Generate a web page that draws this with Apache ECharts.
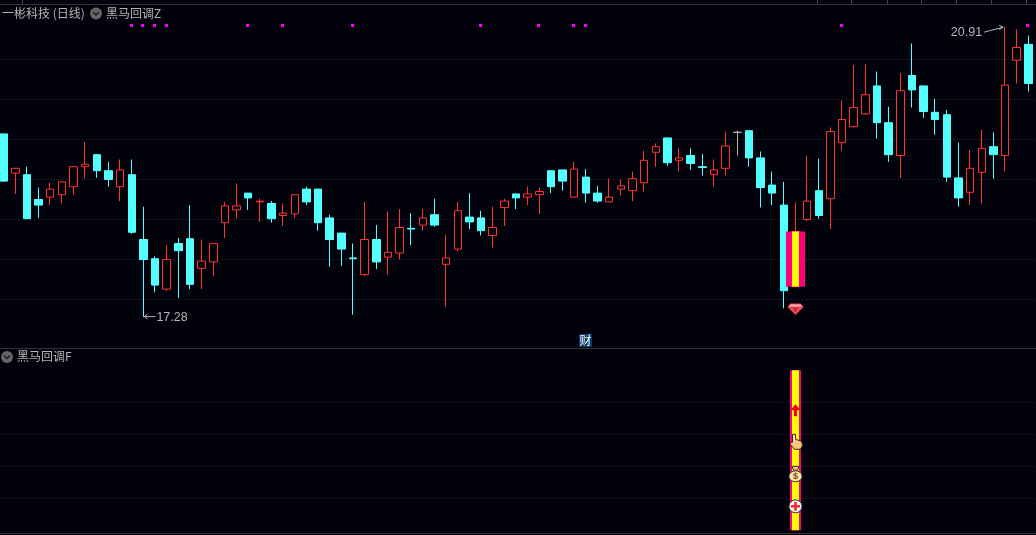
<!DOCTYPE html>
<html>
<head>
<meta charset="UTF-8"/>
<title>一彬科技 (日线)</title>
<script src="https://cdn.jsdelivr.net/npm/echarts@6/dist/echarts.min.js"></script>
<style>
html,body{margin:0;padding:0;background:#02020c;}
#main{width:1036px;height:535px;}
</style>
</head>
<body>
<div id="main"></div>
<script type="text/javascript">
var opens  = [19.57,19.08,19.06,18.75,18.78,18.81,18.91,19.16,19.31,19.11,18.91,19.06,18.25,18.01,17.63,18.20,18.26,17.89,17.97,18.46,18.62,18.83,18.72,18.70,18.55,18.57,18.88,18.88,18.52,18.33,18.02,17.81,18.25,18.03,18.08,18.39,18.43,18.56,17.94,18.13,18.53,18.52,18.30,18.65,18.82,18.78,18.81,19.11,19.12,18.78,19.03,18.83,18.72,18.88,18.86,18.96,19.34,19.52,19.24,19.30,19.16,19.06,19.14,19.59,19.61,19.27,18.93,18.68,17.66,18.50,18.86,18.76,19.46,19.66,19.82,20.17,19.71,19.30,20.30,20.17,19.84,19.81,19.02,18.84,19.09,19.41,19.30,20.49,20.69,20.12];
var closes = [18.98,19.14,18.51,18.68,18.88,18.97,19.16,19.19,19.11,19.00,19.12,18.34,18.00,17.68,18.00,18.11,17.69,17.98,18.20,18.67,18.67,18.77,18.73,18.51,18.58,18.81,18.72,18.46,18.25,18.13,18.01,18.25,17.97,18.09,18.40,18.38,18.52,18.43,18.02,18.61,18.47,18.36,18.40,18.73,18.77,18.82,18.85,18.91,18.98,19.13,18.83,18.73,18.78,18.92,19.01,19.24,19.41,19.21,19.27,19.20,19.15,19.12,19.42,19.59,19.27,18.90,18.83,17.61,18.35,18.73,18.55,19.60,19.75,19.90,20.06,19.71,19.31,20.11,20.12,19.85,19.75,19.03,18.77,19.14,19.39,19.31,20.18,20.65,20.20,19.92];
var lows   = [18.97,18.82,18.51,18.52,18.68,18.70,18.81,19.01,19.02,18.91,18.73,18.32,17.28,17.59,17.61,17.52,17.63,17.63,17.79,18.27,18.51,18.62,18.47,18.46,18.42,18.52,18.68,18.36,17.91,17.92,17.31,17.79,17.88,17.81,18.00,18.18,18.36,18.41,17.41,18.10,18.38,18.30,18.15,18.42,18.63,18.68,18.57,18.83,18.86,18.78,18.71,18.71,18.72,18.80,18.73,18.85,19.16,19.17,19.10,19.12,19.05,18.91,19.05,19.30,19.16,18.65,18.68,17.39,17.66,18.48,18.51,18.38,19.36,19.65,19.81,19.51,19.22,19.02,19.90,19.77,19.56,18.97,18.66,18.68,18.70,19.01,19.10,20.20,20.10,19.92];
var highs  = [19.57,19.14,19.16,18.90,18.96,18.97,19.17,19.47,19.32,19.22,19.25,19.25,18.66,18.04,18.18,18.27,18.68,18.25,18.20,18.72,18.95,18.83,18.76,18.73,18.70,18.81,18.91,18.88,18.56,18.33,18.20,18.72,18.43,18.60,18.63,18.58,18.63,18.76,18.31,18.72,18.83,18.61,18.66,18.76,18.82,18.91,18.90,19.11,19.12,19.22,19.13,18.92,19.01,19.00,19.10,19.36,19.45,19.52,19.39,19.39,19.32,19.25,19.60,19.61,19.61,19.35,19.10,18.97,18.71,19.30,19.26,19.65,19.99,20.43,20.44,20.35,19.91,20.33,20.70,20.17,20.01,19.87,19.46,19.37,19.62,19.59,20.91,20.88,20.80,20.12];

var priceTicks = [17.5,18,18.5,19,19.5,20,20.5];
var lowerTicks = [20,40,60,80];

var signalIdx = [11,12,13,14,21,24,30,41,46,49,50,72,88];
var signalPrice = 20.93;
var greyDojiIdx = 63;

var blackHorseIdx = 68;
var blackHorseLow = 17.66;
var blackHorseHigh = 18.35;
var diamondPrice = 17.38;
var lowerBarFrom = 0;
var lowerBarTo = 100;
var iconNames = ['arrow','hand','bag','plus'];
var iconValues = [75,55,35,15];

var lowIdx = 12, lowValue = 17.28;
var highIdx = 86, highValue = 20.91;

var topTicks = [22,817,851,887,921,956,991,1026];

var BG = '#02020c', UP = '#ff3232', DOWN = '#54ffff', PINK = '#ff0080', YELLOW = '#ffff00';
var TEXT = '#b4b4b4', LINE = '#333333', FONT = '"Noto Sans CJK SC", sans-serif';

var categories = [];
var candles = [];
for (var i = 0; i < opens.length; i++) {
    categories.push(String(i));
    var item = {value: [opens[i], closes[i], lows[i], highs[i]]};
    if (i == greyDojiIdx) {
        item.itemStyle = {color: '#b4b4b4', color0: '#b4b4b4', borderColor: '#b4b4b4', borderColor0: '#b4b4b4', borderColorDoji: '#b4b4b4'};
    }
    candles.push(item);
}

function stickRender(params, api) {
    var a = api.coord([api.value(0), api.value(1)]);
    var b = api.coord([api.value(0), api.value(2)]);
    var x = Math.round(a[0]) + 0.5;
    return {type: 'group', children: [
        {type: 'rect', shape: {x: x - 9.5, y: b[1], width: 19, height: a[1] - b[1]}, style: {fill: PINK}},
        {type: 'rect', shape: {x: x - 3.5, y: b[1], width: 7, height: a[1] - b[1]}, style: {fill: YELLOW}}
    ]};
}

function lowerStickRender(params, api) {
    var a = api.coord([api.value(0), api.value(1)]);
    var b = api.coord([api.value(0), api.value(2)]);
    var x = Math.round(a[0]) + 0.5;
    return {type: 'group', children: [
        {type: 'rect', shape: {x: x - 5.5, y: b[1], width: 11, height: a[1] - b[1]}, style: {fill: PINK}},
        {type: 'rect', shape: {x: x - 3.5, y: b[1], width: 7, height: a[1] - b[1]}, style: {fill: YELLOW}}
    ]};
}

// little squares along the top, snapped to whole pixels so they stay bright
function signalRender(params, api) {
    var c = api.coord([api.value(0), api.value(1)]);
    return {type: 'rect', shape: {x: Math.round(c[0]) - 2, y: Math.round(c[1]) - 1, width: 3, height: 3}, style: {fill: '#ff00ff'}};
}

function poly(cx, cy, pts, style) {
    var out = [];
    for (var i = 0; i < pts.length; i++) {
        out.push([cx + pts[i][0], cy + pts[i][1]]);
    }
    return {type: 'polygon', shape: {points: out}, style: style};
}

function diamondRender(params, api) {
    var c = api.coord([api.value(0), api.value(1)]);
    var x = Math.round(c[0]) + 0.5, y = c[1];
    return {type: 'group', children: [
        poly(x, y, [[-5,-5.5],[5,-5.5],[8,-2],[0,6],[-8,-2]], {fill: '#f04a58'}),
        poly(x, y, [[-5,-4.5],[5,-4.5],[6.5,-2.5],[-6.5,-2.5]], {fill: '#ffb4b4'}),
        poly(x, y, [[-3,-1.5],[3,-1.5],[0,4]], {fill: '#c8283c'})
    ]};
}

function iconRender(params, api) {
    var c = api.coord([api.value(0), api.value(1)]);
    var x = Math.round(c[0]) + 0.5, y = c[1];
    var name = iconNames[params.dataIndex];
    if (name == 'arrow') {
        return {type: 'group', children: [
            poly(x, y, [[0,-6],[5,0],[1.5,0],[1.5,6],[-1.5,6],[-1.5,0],[-5,0]], {fill: '#f00000'})
        ]};
    }
    if (name == 'hand') {
        return {type: 'group', children: [
            poly(x, y, [[-3,-8],[0,-8],[0,-3],[6,-1],[7,3],[5,7],[-1,7],[-6,1],[-3,0]], {fill: '#fcc67e', stroke: '#3a2a10', lineWidth: 1}),
            {type: 'rect', shape: {x: x - 2, y: y - 7, width: 1.5, height: 6}, style: {fill: '#fff4e0'}}
        ]};
    }
    if (name == 'bag') {
        return {type: 'group', children: [
            poly(x, y, [[-3.5,-8],[3.5,-8],[2,-4],[-2,-4]], {fill: '#e8c878', stroke: '#333', lineWidth: 1}),
            {type: 'ellipse', shape: {cx: x, cy: y + 2, rx: 6.5, ry: 5.5}, style: {fill: '#f8e0a0', stroke: '#333', lineWidth: 1}},
            {type: 'text', style: {text: '$', x: x, y: y + 2, fill: '#7a4a20', font: 'bold 9px "Liberation Sans"', textAlign: 'center', textVerticalAlign: 'middle'}}
        ]};
    }
    return {type: 'group', children: [
        {type: 'circle', shape: {cx: x, cy: y, r: 6.5}, style: {fill: '#f4f4f4', stroke: '#333', lineWidth: 1}},
        {type: 'rect', shape: {x: x - 4.5, y: y - 1.25, width: 9, height: 2.5}, style: {fill: '#f02828'}},
        {type: 'rect', shape: {x: x - 1.25, y: y - 4.5, width: 2.5, height: 9}, style: {fill: '#f02828'}}
    ]};
}

function extremeRender(params, api) {
    var c = api.coord([api.value(0), api.value(1)]);
    var x = c[0], y = c[1];
    var line = {stroke: '#b4b4b4', lineWidth: 1, fill: 'none'};
    var txt = api.value(1).toFixed(2);
    if (api.value(2) < 0) {
        return {type: 'group', children: [
            {type: 'polyline', shape: {points: [[x + 12, y - 0.5], [x + 1, y - 0.5]]}, style: line},
            {type: 'polyline', shape: {points: [[x + 4, y - 3], [x + 1, y - 0.5], [x + 4, y + 2]]}, style: line},
            {type: 'text', style: {text: txt, x: x + 13, y: y, fill: TEXT, font: '12.5px "Liberation Sans"', textVerticalAlign: 'middle'}}
        ]};
    }
    return {type: 'group', children: [
        {type: 'polyline', shape: {points: [[x - 21, y + 5.5], [x - 2, y + 0.5]]}, style: line},
        {type: 'polyline', shape: {points: [[x - 6, y - 1.5], [x - 2, y + 0.5], [x - 6, y + 3]]}, style: line},
        {type: 'text', style: {text: txt, x: x - 23, y: y + 6, fill: TEXT, font: '12.5px "Liberation Sans"', textAlign: 'right', textVerticalAlign: 'middle'}}
    ]};
}

function chevron(cx, cy) {
    return [
        {type: 'circle', shape: {cx: cx, cy: cy, r: 6}, style: {fill: '#666666'}},
        {type: 'polyline', shape: {points: [[cx - 3, cy - 1.5], [cx, cy + 1.5], [cx + 3, cy - 1.5]]}, style: {stroke: '#1a1a1a', lineWidth: 1.5, fill: 'none'}}
    ];
}

function hLine(y) {
    return {type: 'line', shape: {x1: 0, y1: y, x2: 1036, y2: y}, style: {stroke: LINE, lineWidth: 1}};
}

var chrome = [hLine(4.5), hLine(348.5), hLine(533.5)];
for (var t = 0; t < topTicks.length; t++) {
    chrome.push({type: 'line', shape: {x1: topTicks[t] + 0.5, y1: 0, x2: topTicks[t] + 0.5, y2: 4}, style: {stroke: '#444444', lineWidth: 1}});
}
chrome = chrome.concat(chevron(96, 13.5), chevron(7, 357));
chrome.push({type: 'text', x: 2, y: 13.5, style: {text: '一彬科技 (日线)', fill: TEXT, font: '12px ' + FONT, textVerticalAlign: 'middle'}});
chrome.push({type: 'text', x: 106, y: 13.5, style: {text: '黑马回调Z', fill: TEXT, font: '12px ' + FONT, textVerticalAlign: 'middle'}});
chrome.push({type: 'text', x: 17, y: 356.5, style: {text: '黑马回调F', fill: TEXT, font: '12px ' + FONT, textVerticalAlign: 'middle'}});
chrome.push({type: 'rect', shape: {x: 579, y: 334, width: 13, height: 13}, style: {fill: '#0c3c6e'}});
chrome.push({type: 'text', x: 585.5, y: 340.5, style: {text: '财', fill: '#ffffff', font: '12px ' + FONT, textAlign: 'center', textVerticalAlign: 'middle'}});

var signalData = [];
for (var s = 0; s < signalIdx.length; s++) {
    signalData.push([signalIdx[s], signalPrice]);
}
var iconData = [];
for (var k = 0; k < iconValues.length; k++) {
    iconData.push([blackHorseIdx, iconValues[k]]);
}

var hiddenAxis = {axisLine: {show: false}, axisLabel: {show: false}};
var splitStyle = {show: true, lineStyle: {color: '#363636', type: [1, 3], width: 1}};

var myChart = echarts.init(document.getElementById('main'));
var option = {
    backgroundColor: BG,
    animation: false,
    graphic: {elements: chrome},
    grid: [
        {left: -2.16, width: 1048, top: 5, height: 342.5, outerBoundsMode: 'none'},
        {left: -2.16, width: 1048, top: 370.3, height: 160, outerBoundsMode: 'none'}
    ],
    xAxis: [
        {type: 'category', gridIndex: 0, data: categories, show: false},
        {type: 'category', gridIndex: 1, data: categories, show: false}
    ],
    yAxis: [
        {type: 'value', gridIndex: 0, min: 16.9, max: 21.18125, axisLine: hiddenAxis.axisLine, axisLabel: hiddenAxis.axisLabel,
            axisTick: {show: false, customValues: priceTicks}, splitLine: splitStyle},
        {type: 'value', gridIndex: 1, min: 0, max: 100, axisLine: hiddenAxis.axisLine, axisLabel: hiddenAxis.axisLabel,
            axisTick: {show: false, customValues: lowerTicks}, splitLine: splitStyle}
    ],
    series: [
        {
            type: 'candlestick',
            name: '一彬科技',
            xAxisIndex: 0,
            yAxisIndex: 0,
            barWidth: 8,
            data: candles,
            itemStyle: {color: BG, color0: DOWN, borderColor: UP, borderColor0: DOWN, borderWidth: 1}
        },
        {
            type: 'custom',
            name: '信号',
            xAxisIndex: 0,
            yAxisIndex: 0,
            z: 5,
            renderItem: signalRender,
            encode: {x: 0, y: 1},
            data: signalData
        },
        {
            type: 'custom',
            name: '黑马回调Z',
            xAxisIndex: 0,
            yAxisIndex: 0,
            z: 5,
            clip: false,
            renderItem: stickRender,
            encode: {x: 0, y: [1, 2]},
            data: [[blackHorseIdx, blackHorseLow, blackHorseHigh]]
        },
        {
            type: 'custom',
            name: '钻石',
            xAxisIndex: 0,
            yAxisIndex: 0,
            z: 5,
            renderItem: diamondRender,
            encode: {x: 0, y: 1},
            data: [[blackHorseIdx, diamondPrice]]
        },
        {
            type: 'custom',
            name: '高低点',
            xAxisIndex: 0,
            yAxisIndex: 0,
            z: 5,
            clip: false,
            renderItem: extremeRender,
            encode: {x: 0, y: 1},
            data: [[lowIdx, lowValue, -1], [highIdx, highValue, 1]]
        },
        {
            type: 'custom',
            name: '黑马回调F',
            xAxisIndex: 1,
            yAxisIndex: 1,
            z: 5,
            clip: false,
            renderItem: lowerStickRender,
            encode: {x: 0, y: [1, 2]},
            data: [[blackHorseIdx, lowerBarFrom, lowerBarTo]]
        },
        {
            type: 'custom',
            name: '图标',
            xAxisIndex: 1,
            yAxisIndex: 1,
            z: 6,
            clip: false,
            renderItem: iconRender,
            encode: {x: 0, y: 1},
            data: iconData
        }
    ]
};
myChart.setOption(option);
</script>
</body>
</html>
